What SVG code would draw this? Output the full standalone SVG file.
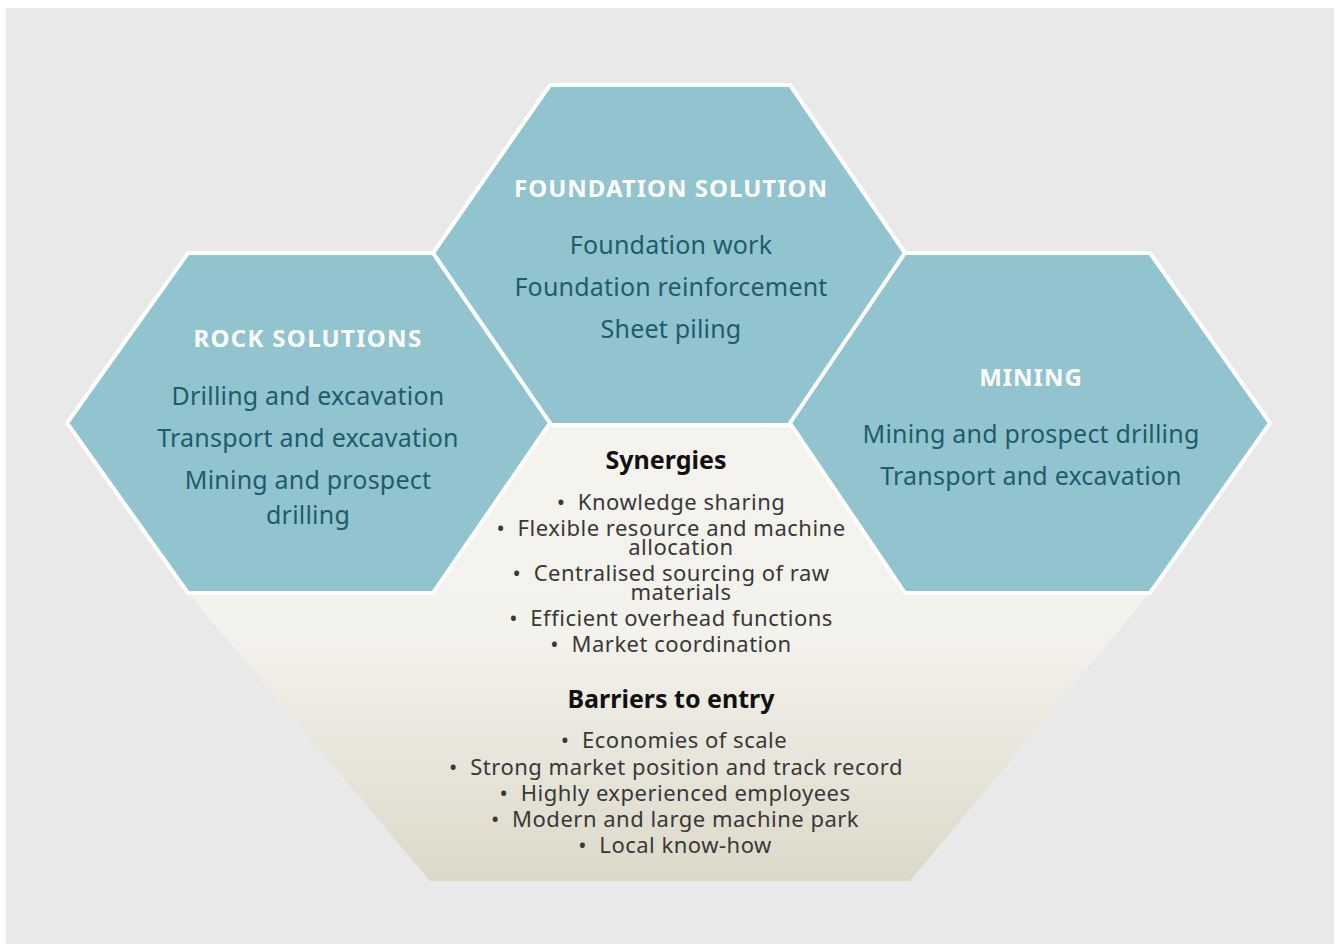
<svg xmlns="http://www.w3.org/2000/svg" width="1340" height="944" viewBox="0 0 1340 944">
  <defs>
    <linearGradient id="panelFill" x1="0" y1="425" x2="0" y2="881" gradientUnits="userSpaceOnUse">
      <stop offset="0" stop-color="#f5f3ed"/>
      <stop offset="0.45" stop-color="#f4f2ec"/>
      <stop offset="1" stop-color="#dcd9c9"/>
    </linearGradient>
    <style>
      .hex { fill: #91c4cf; stroke: #ffffff; stroke-width: 4; stroke-linejoin: miter; }
      .title { font-family: "Noto Sans", "Liberation Sans", sans-serif; font-weight: 700; font-size: 24px; fill: #ffffff; text-anchor: middle; letter-spacing: 1px; }
      .item { font-family: "Noto Sans", "Liberation Sans", sans-serif; font-size: 25px; fill: #1e5c6c; text-anchor: middle; letter-spacing: 0.2px; }
      .head { font-family: "Noto Sans", "Liberation Sans", sans-serif; font-weight: 700; font-size: 25px; fill: #111111; text-anchor: middle; }
      .bullet { font-family: "Noto Sans", "Liberation Sans", sans-serif; font-size: 22px; fill: #383838; text-anchor: middle; letter-spacing: 0.5px; }
    </style>
  </defs>

  <!-- page background -->
  <rect x="6" y="8" width="1328" height="936" fill="#e9e9e9"/>

  <!-- shared cream panel behind the hexagons -->
  <g id="shared-panel">
    <polygon points="188,593 550,425 790,425 1150,593 910,881 430,881" fill="url(#panelFill)"/>
  </g>

  <!-- Foundation solution hexagon -->
  <g id="foundation-solution">
    <polygon class="hex" points="550,85 790,85 905,253 790,425 550,425 433,253"/>
    <text class="title" x="671" y="197">FOUNDATION SOLUTION</text>
    <text class="item" x="671" y="254">Foundation work</text>
    <text class="item" x="671" y="296">Foundation reinforcement</text>
    <text class="item" x="671" y="338">Sheet piling</text>
  </g>

  <!-- Rock solutions hexagon -->
  <g id="rock-solutions">
    <polygon class="hex" points="188,253 433,253 550,423 433,593 188,593 67,423"/>
    <text class="title" x="308" y="347" style="letter-spacing:1.3px">ROCK SOLUTIONS</text>
    <text class="item" x="308" y="405">Drilling and excavation</text>
    <text class="item" x="308" y="447">Transport and excavation</text>
    <text class="item" x="308" y="489">Mining and prospect</text>
    <text class="item" x="308" y="524">drilling</text>
  </g>

  <!-- Mining hexagon -->
  <g id="mining">
    <polygon class="hex" points="905,253 1150,253 1270,423 1150,593 905,593 790,423"/>
    <text class="title" x="1031" y="386">MINING</text>
    <text class="item" x="1031" y="443">Mining and prospect drilling</text>
    <text class="item" x="1031" y="485">Transport and excavation</text>
  </g>

  <!-- Synergies list -->
  <g id="synergies">
    <text class="head" x="666" y="469">Synergies</text>
    <text class="bullet" x="671" y="510">•&#160;&#160;Knowledge sharing</text>
    <text class="bullet" x="671" y="536">•&#160;&#160;Flexible resource and machine</text>
    <text class="bullet" x="681" y="555">allocation</text>
    <text class="bullet" x="671" y="581">•&#160;&#160;Centralised sourcing of raw</text>
    <text class="bullet" x="681" y="600">materials</text>
    <text class="bullet" x="671" y="626">•&#160;&#160;Efficient overhead functions</text>
    <text class="bullet" x="671" y="652">•&#160;&#160;Market coordination</text>
  </g>

  <!-- Barriers to entry list -->
  <g id="barriers-to-entry">
    <text class="head" x="671" y="708">Barriers to entry</text>
    <text class="bullet" x="674" y="748">•&#160;&#160;Economies of scale</text>
    <text class="bullet" x="676" y="775">•&#160;&#160;Strong market position and track record</text>
    <text class="bullet" x="675" y="801">•&#160;&#160;Highly experienced employees</text>
    <text class="bullet" x="675" y="827">•&#160;&#160;Modern and large machine park</text>
    <text class="bullet" x="675" y="853">•&#160;&#160;Local know-how</text>
  </g>
</svg>
